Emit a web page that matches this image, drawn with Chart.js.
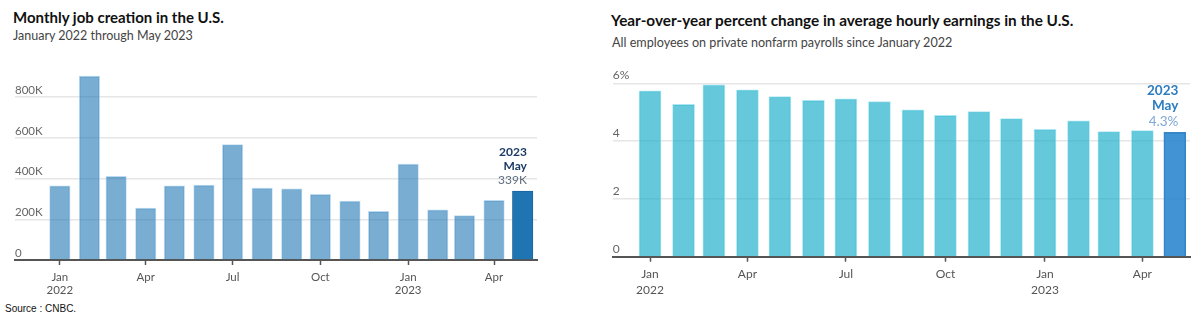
<!DOCTYPE html>
<html>
<head>
<meta charset="utf-8">
<script src="https://cdn.jsdelivr.net/npm/chart.js@4.4.1/dist/chart.umd.min.js"></script>
<style>
  html, body { margin: 0; padding: 0; background: #fff; }
  body { width: 1198px; height: 321px; position: relative; overflow: hidden; font-family: Lato, "Open Sans", sans-serif; }
  .t { position: absolute; white-space: nowrap; line-height: 1; }
  .title { font-weight: 700; color: #111; }
  .sub { color: #444; }
  #c1 { position: absolute; left: 0; top: 0; }
  #c2 { position: absolute; left: 590px; top: 0; }
  #src { font-family: "Liberation Sans", Arial, sans-serif; font-size: 10px; color: #111; left: 5px; top: 304px; }
</style>
</head>
<body>
<div class="t title" style="left:13px; top:10px; font-size:15px;">Monthly job creation in the U.S.</div>
<div class="t sub" style="left:13px; top:30px; font-size:12.5px;">January 2022 through May 2023</div>
<div class="t title" style="left:611px; top:13px; font-size:15.3px;">Year-over-year percent change in average hourly earnings in the U.S.</div>
<div class="t sub" style="left:612px; top:37px; font-size:12.6px;">All employees on private nonfarm payrolls since January 2022</div>
<div class="t" id="src">Source : CNBC.</div>
<canvas id="c1" width="560" height="321"></canvas>
<canvas id="c2" width="608" height="321"></canvas>
<script>
// ---- data ----
const months = ['2022-01','2022-02','2022-03','2022-04','2022-05','2022-06','2022-07','2022-08','2022-09','2022-10','2022-11','2022-12','2023-01','2023-02','2023-03','2023-04','2023-05'];
const jobsK = [364, 904, 411, 255, 364, 368, 567, 354, 350, 323, 290, 239, 472, 246, 218, 293, 339];
const wagePct = [5.74, 5.27, 5.95, 5.77, 5.54, 5.41, 5.46, 5.37, 5.08, 4.89, 5.02, 4.78, 4.41, 4.70, 4.33, 4.36, 4.3];
const xTickMonths = ['2022-01','2022-04','2022-07','2022-10','2023-01','2023-04'];
const xTickLabels = [['Jan','2022'],'Apr','Jul','Oct',['Jan','2023'],'Apr'];
const jobsTicks = [0, 200, 400, 600, 800];
const jobsTickLabels = ['0','200K','400K','600K','800K'];
const wageTicks = [0, 2, 4, 6];
const wageTickLabels = ['0','2','4','6%'];
const lastYear = '2023';
const lastMonth = 'May';

// ---- helpers ----
function dayOf(ym) {
  const [y, m] = ym.split('-').map(Number);
  return (Date.UTC(y, m - 1, 1) - Date.UTC(2022, 0, 1)) / 86400000;
}
const FONT = 'Lato, "Open Sans", sans-serif';

function annotationPlugin(opts) {
  return {
    id: 'lastLabel',
    afterDatasetsDraw(chart) {
      const meta = chart.getDatasetMeta(0);
      const bar = meta.data[meta.data.length - 1];
      const ctx = chart.ctx;
      const xr = bar.x + bar.width / 2 - opts.inset;
      ctx.save();
      ctx.textAlign = 'right';
      ctx.textBaseline = 'middle';
      ctx.font = 'bold ' + opts.size + 'px ' + FONT;
      ctx.fillStyle = opts.strong;
      ctx.fillText(lastYear, xr, bar.y - opts.gap - 2 * opts.lh);
      ctx.fillText(lastMonth, xr, bar.y - opts.gap - opts.lh);
      ctx.font = opts.size + 'px ' + FONT;
      ctx.fillStyle = opts.light;
      ctx.fillText(opts.value, xr, bar.y - opts.gap);
      ctx.restore();
    }
  };
}

function makeChart(id, cfg) {
  const data = cfg.values.map((v, i) => ({ x: dayOf(months[i]), y: v }));
  const n = data.length;
  return new Chart(document.getElementById(id), {
    type: 'bar',
    data: {
      datasets: [{
        data: data,
        backgroundColor: data.map((d, i) => i === n - 1 ? cfg.lastColor : cfg.color),
        borderColor: data.map((d, i) => i === n - 1 ? cfg.lastBorder : cfg.border),
        borderWidth: 1,
        barThickness: cfg.barW
      }]
    },
    options: {
      responsive: false,
      animation: false,
      events: [],
      layout: { padding: cfg.pad },
      plugins: { legend: { display: false }, tooltip: { enabled: false } },
      scales: {
        x: {
          type: 'linear',
          offset: false,
          min: cfg.xmin, max: cfg.xmax,
          afterFit: s => { s.height = cfg.xh; },
          afterBuildTicks: s => { s.ticks = xTickMonths.map(m => ({ value: dayOf(m) })); },
          border: { display: true, color: '#555', width: 2 },
          grid: { offset: false, drawOnChartArea: false, drawTicks: true, tickLength: 5, tickWidth: 1.5, tickColor: '#555', color: '#555' },
          ticks: {
            callback: (v, i) => xTickLabels[i],
            font: { family: FONT, size: cfg.xfont, lineHeight: cfg.xlh },
            color: '#555', padding: cfg.xpad, maxRotation: 0, autoSkip: false
          }
        },
        y: {
          min: 0, max: cfg.ymax,
          afterFit: s => { s.width = 0; },
          afterBuildTicks: s => { s.ticks = cfg.yTicks.map(v => ({ value: v })); },
          border: { display: false },
          grid: { drawTicks: false, lineWidth: 1.5, color: c => c.tick && c.tick.value === 0 ? 'rgba(0,0,0,0)' : '#e6e6e6' },
          ticks: {
            mirror: true, padding: 0, labelOffset: cfg.yLabOff,
            callback: (v, i) => cfg.yLabels[i],
            font: { family: FONT, size: cfg.yfont }, color: '#666'
          }
        }
      }
    },
    plugins: [annotationPlugin(cfg.ann)]
  });
}

makeChart('c1', {
  values: jobsK,
  color: 'rgba(31,119,180,0.6)', lastColor: 'rgba(31,117,178,1)',
  border: 'rgba(150,195,228,0.6)', lastBorder: 'rgba(25,100,160,1)',
  barW: 20.5,
  pad: { left: 15, right: 23, top: 60, bottom: 0 },
  xmin: -47, xmax: 500, xh: 61, xfont: 11.5, xlh: 1.2, xpad: 5,
  ymax: 983, yTicks: jobsTicks, yLabels: jobsTickLabels, yLabOff: -7, yfont: 11.5,
  ann: { value: jobsK[jobsK.length - 1] + 'K', strong: '#1b3a66', light: '#5f6f80', size: 12, lh: 14, gap: 11, inset: 6 }
});

makeChart('c2', {
  values: wagePct,
  color: 'rgba(23,173,200,0.66)', lastColor: 'rgba(40,132,205,0.88)',
  border: 'rgba(140,220,235,0.7)', lastBorder: 'rgba(40,120,190,0.9)',
  barW: 22,
  pad: { left: 22.7, right: 8, top: 83.3, bottom: 0 },
  xmin: -34.5, xmax: 499, xh: 64.3, xfont: 12, xlh: 1.3, xpad: 5,
  ymax: 6, yTicks: wageTicks, yLabels: wageTickLabels, yLabOff: -8, yfont: 12,
  ann: { value: wagePct[wagePct.length - 1].toFixed(1) + '%', strong: '#2c7cc0', light: '#7fa8d4', size: 13.5, lh: 15.5, gap: 11, inset: 7.5 }
});
</script>
</body>
</html>
